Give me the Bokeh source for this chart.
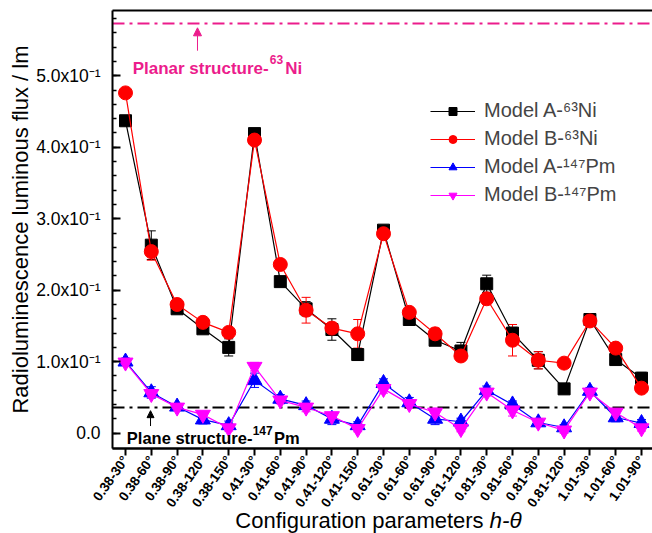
from math import pi
from bokeh.plotting import figure
from bokeh.models import (ColumnDataSource, FixedTicker, CustomJSTickFormatter, Label,
                          Arrow, NormalHead, Whisker, TeeHead, Legend, LegendItem, Range1d)
from bokeh.embed import file_html
from bokeh.resources import INLINE

# ---------------- data ----------------
CONFIGS = ["0.38-30°", "0.38-60°", "0.38-90°", "0.38-120°", "0.38-150°",
           "0.41-30°", "0.41-60°", "0.41-90°", "0.41-120°", "0.41-150°",
           "0.61-30°", "0.61-60°", "0.61-90°", "0.61-120°",
           "0.81-30°", "0.81-60°", "0.81-90°", "0.81-120°",
           "1.01-30°", "1.01-60°", "1.01-90°"]

MODEL_A_NI63 = [0.437, 0.263, 0.174, 0.146, 0.120, 0.419, 0.212, 0.174, 0.145, 0.110,
                0.284, 0.159, 0.130, 0.115, 0.209, 0.140, 0.102, 0.062, 0.159, 0.103, 0.077]
MODEL_B_NI63 = [0.476, 0.254, 0.180, 0.155, 0.141, 0.410, 0.236, 0.172, 0.147, 0.139,
                0.279, 0.169, 0.139, 0.108, 0.188, 0.130, 0.102, 0.098, 0.157, 0.119, 0.063]
MODEL_A_PM147 = [0.100, 0.057, 0.037, 0.019, 0.011, 0.074, 0.048, 0.039, 0.020, 0.011,
                 0.070, 0.043, 0.020, 0.016, 0.060, 0.040, 0.015, 0.008, 0.059, 0.022, 0.014]
MODEL_B_PM147 = [0.099, 0.055, 0.036, 0.026, 0.007, 0.093, 0.046, 0.036, 0.024, 0.006,
                 0.062, 0.041, 0.029, 0.006, 0.057, 0.032, 0.015, 0.004, 0.057, 0.029, 0.007]

ERR_A_NI63 = [0.005, 0.020, 0.005, 0.005, 0.012, 0.004, 0.005, 0.010, 0.015, 0.008,
              0.005, 0.005, 0.005, 0.012, 0.012, 0.008, 0.012, 0.004, 0.005, 0.005, 0.008]
ERR_B_NI63 = [0.004, 0.012, 0.005, 0.005, 0.005, 0.005, 0.004, 0.018, 0.008, 0.020,
              0.008, 0.006, 0.008, 0.006, 0.008, 0.022, 0.012, 0.006, 0.005, 0.006, 0.004]
ERR_A_PM147 = [0.005, 0.008, 0.004, 0.006, 0.006, 0.010, 0.006, 0.006, 0.008, 0.005,
               0.006, 0.007, 0.008, 0.005, 0.006, 0.005, 0.005, 0.004, 0.005, 0.006, 0.005]
ERR_B_PM147 = [0.004, 0.005, 0.004, 0.004, 0.004, 0.006, 0.005, 0.006, 0.005, 0.004,
               0.006, 0.006, 0.006, 0.004, 0.005, 0.008, 0.005, 0.004, 0.005, 0.006, 0.004]

PLANAR_NI63 = 0.573   # planar structure, 63Ni
PLANE_PM147 = 0.036   # plane structure, 147Pm

Y_TICKS = [0.0, 0.1, 0.2, 0.3, 0.4, 0.5]

FONT = "Liberation Sans"
PINK = "#EC1C8C"

# axis box (data units) and full view range
X_LEFT, X_END = -0.504, 20.426
Y_AXIS, Y_TOP = -0.0214, 0.5912
X_START = -4.845
Y_START, Y_END = -0.1403, 0.6052

# ---------------- figure ----------------
p = figure(width=652, height=533, output_backend="svg", toolbar_location=None,
           x_range=Range1d(X_START, X_END), y_range=Range1d(Y_START, Y_END),
           min_border_left=0, min_border_right=0, min_border_top=0, min_border_bottom=0)
p.outline_line_color = None
p.grid.visible = False
p.background_fill_color = "white"
p.border_fill_color = "white"

xs = list(range(len(CONFIGS)))

xa = p.xaxis[0]
xa.fixed_location = Y_AXIS
xa.bounds = (X_LEFT, X_END)
xa.ticker = FixedTicker(ticks=xs)
xa.major_label_overrides = {i: c for i, c in enumerate(CONFIGS)}
xa.major_label_orientation = 55 * pi / 180
xa.major_label_text_font = FONT
xa.major_label_text_font_size = "13.5px"
xa.major_label_text_font_style = "bold"
xa.major_label_text_color = "black"
xa.major_tick_in = 0
xa.major_tick_out = 7
xa.minor_tick_line_color = None
xa.axis_line_width = 2
xa.major_tick_line_width = 2
xa.major_label_standoff = 2

ya = p.yaxis[0]
ya.fixed_location = X_LEFT
ya.bounds = (Y_AXIS, Y_TOP)
ya.ticker = FixedTicker(ticks=Y_TICKS, minor_ticks=[round(i * 0.02, 2) for i in range(30)])
ya.formatter = CustomJSTickFormatter(code="""
if (Math.abs(tick) < 1e-9) { return "0.0"; }
return (tick * 10).toFixed(1) + "x10\u207B\u00B9";
""")
ya.major_tick_in = 8
ya.major_tick_out = 0
ya.minor_tick_in = 4
ya.minor_tick_out = 0
ya.axis_line_width = 2
ya.major_tick_line_width = 2
ya.minor_tick_line_width = 1.5
ya.major_label_standoff = 12
ya.major_label_text_font = FONT
ya.major_label_text_font_size = "17.5px"
ya.major_label_text_color = "black"
ya.axis_label = "Radioluminescence luminous flux / lm"
ya.axis_label_text_font = FONT
ya.axis_label_text_font_size = "22px"
ya.axis_label_text_font_style = "normal"
ya.axis_label_text_color = "black"
ya.axis_label_standoff = 0

# frame lines (bottom + top)
p.segment(x0=[X_LEFT, X_LEFT], y0=[Y_AXIS, Y_TOP], x1=[X_END, X_END], y1=[Y_AXIS, Y_TOP],
          line_color="black", line_width=2)

# reference lines
p.segment(x0=[X_LEFT], y0=[PLANAR_NI63], x1=[X_END], y1=[PLANAR_NI63],
          line_color=PINK, line_width=2, line_dash="12 5 3 5")
p.segment(x0=[X_LEFT], y0=[PLANE_PM147], x1=[X_END], y1=[PLANE_PM147],
          line_color="black", line_width=2, line_dash="12 5 3 5")

# ---------------- series ----------------
series = [
    ("Model A-\u2076\u00B3Ni", MODEL_A_NI63, ERR_A_NI63, "black", "square", 12),
    ("Model B-\u2076\u00B3Ni", MODEL_B_NI63, ERR_B_NI63, "#FF0000", "circle", 14),
    ("Model A-\u00B9\u2074\u2077Pm", MODEL_A_PM147, ERR_A_PM147, "#0000FF", "triangle", 15),
    ("Model B-\u00B9\u2074\u2077Pm", MODEL_B_PM147, ERR_B_PM147, "#FF00FF", "inverted_triangle", 15),
]

items = []
for name, vals, errs, color, marker, size in series:
    src = ColumnDataSource(dict(
        x=xs, y=vals,
        upper=[v + e for v, e in zip(vals, errs)],
        lower=[v - e for v, e in zip(vals, errs)],
    ))
    ln = p.line("x", "y", source=src, line_color=color, line_width=1.2)
    sc = p.scatter("x", "y", source=src, marker=marker, size=size,
                   fill_color=color, line_color=color)
    p.add_layout(Whisker(source=src, base="x", upper="upper", lower="lower",
                         line_color=color, line_width=1,
                         upper_head=TeeHead(size=9, line_color=color, line_width=1),
                         lower_head=TeeHead(size=9, line_color=color, line_width=1)))
    items.append(LegendItem(label=name, renderers=[ln, sc]))

legend = Legend(items=items, location=(430, 327), glyph_width=45, glyph_height=20,
                label_standoff=9, spacing=5, padding=0, margin=0,
                label_text_font=FONT, label_text_font_size="20px",
                border_line_color=None, background_fill_alpha=0)
p.add_layout(legend)

# ---------------- annotations ----------------
def lab(text, x, y, size, color="black", style="bold", align="left"):
    p.add_layout(Label(x=x, y=y, text=text, text_font=FONT, text_font_size=size,
                       text_font_style=style, text_color=color, text_align=align,
                       text_baseline="alphabetic"))

# Planar structure-63Ni
lab("Planar structure-", 5.55, 0.5099, "17px", PINK, align="right")
lab("63", 5.59, 0.5224, "12px", PINK)
lab("Ni", 6.19, 0.5099, "17px", PINK)
p.add_layout(Arrow(end=NormalHead(size=8, fill_color=PINK, line_color=PINK),
                   x_start=2.79, y_start=0.535, x_end=2.79, y_end=0.567,
                   line_color=PINK, line_width=1))

# Plane structure-147Pm
lab("Plane structure-", 4.92, -0.0074, "16.5px", "black", align="right")
lab("147", 4.93, 0.0034, "12px", "black")
lab("Pm", 5.76, -0.0074, "16.5px", "black")
p.add_layout(Arrow(end=NormalHead(size=7, fill_color="black", line_color="black"),
                   x_start=0.97, y_start=0.010, x_end=0.97, y_end=0.0315,
                   line_color="black", line_width=1))

# x axis title (with italic h-theta)
lab("Configuration parameters", 13.88, -0.1221, "22px", "black", style="normal", align="right")
lab("h-\u03B8", 14.11, -0.1221, "22.5px", "black", style="italic")

open("out.html", "w").write(file_html(p, INLINE))
